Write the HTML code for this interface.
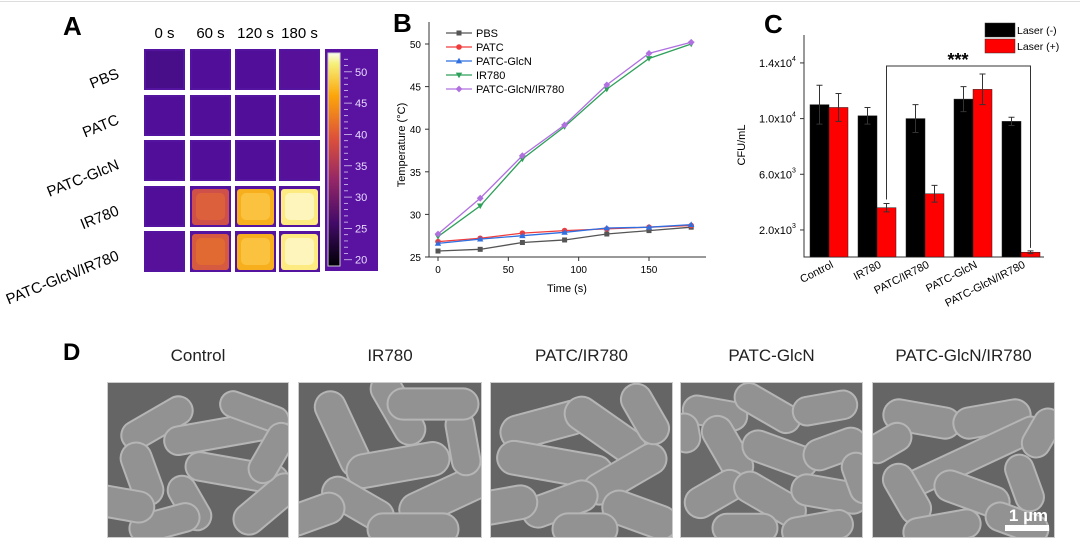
<!DOCTYPE html>
<html><head><meta charset="utf-8"><style>
body{margin:0;background:#fff;width:1080px;height:540px;overflow:hidden;font-family:"Liberation Sans",sans-serif}
svg text{font-family:"Liberation Sans",sans-serif}
</style></head><body>
<svg id="fig" width="1080" height="540" viewBox="0 0 1080 540" xmlns="http://www.w3.org/2000/svg">
<defs>
<linearGradient id="inferno" x1="0" y1="1" x2="0" y2="0">
<stop offset="0" stop-color="#000004"/><stop offset="0.2" stop-color="#420a68"/><stop offset="0.4" stop-color="#932667"/><stop offset="0.6" stop-color="#dd513a"/><stop offset="0.8" stop-color="#fca50a"/><stop offset="0.95" stop-color="#f6f07a"/><stop offset="1" stop-color="#fcfdf0"/>
</linearGradient>
</defs>
<line x1="0" y1="1.5" x2="1080" y2="1.5" stroke="#ddd"/>
<g id="panelA"></g>
<g id="panelB"></g>
<g id="panelC"></g>
<g id="panelD"></g>
</svg>
<script>
const NS="http://www.w3.org/2000/svg";
// Panel A data
const heatTimes=["0 s","60 s","120 s","180 s"];
const heatGroups=["PBS","PATC","PATC-GlcN","IR780","PATC-GlcN/IR780"];
const heatTemps=[[26,27,27,28],[27,27,27,28],[27,27,27,28],[27,36,45,50],[28,37,45,50]];
const cbTicks=[20,25,30,35,40,45,50];
// Panel B data
const timeX=[0,30,60,90,120,150,180];
const seriesNames=["PBS","PATC","PATC-GlcN","IR780","PATC-GlcN/IR780"];
const seriesColors=["#555555","#f03c3c","#2f6fe0","#2ea05a","#b070e0"];
const pbsT=[25.7,25.9,26.7,27.0,27.7,28.1,28.5];
const patcT=[26.8,27.2,27.8,28.1,28.3,28.5,28.7];
const glcnT=[26.6,27.1,27.5,27.9,28.4,28.5,28.8];
const ir780T=[27.4,31.0,36.5,40.3,44.7,48.3,50.0];
const glcnIrT=[27.7,31.9,36.9,40.5,45.2,48.9,50.2];
const tempTicks=[25,30,35,40,45,50];
const timeTicks=[0,50,100,150];
// Panel C data
const cfuGroups=["Control","IR780","PATC/IR780","PATC-GlcN","PATC-GlcN/IR780"];
const laserOff=[11000,10200,10000,11400,9800];
const laserOn=[10800,3600,4600,12100,400];
const errOff=[1400,600,1000,900,300];
const errOn=[1000,300,600,1100,100];
const cfuTicks=[2000,6000,10000,14000];
const cfuTickLabels=["2.0x10","6.0x10","1.0x10","1.4x10"];
const cfuTickExp=["3","3","4","4"];

function el(tag,attrs,parent,text){const e=document.createElementNS(NS,tag);for(const k in attrs)e.setAttribute(k,attrs[k]);if(text!==undefined)e.textContent=text;parent.appendChild(e);return e;}

// ---------- Panel A ----------
const A=document.getElementById('panelA');
let t=el('text',{x:63,y:35,'font-size':26,'font-weight':'bold'},A,'A');

function heatColor(T){const stops=[[20,[0,0,4]],[26,[80,12,150]],[30,[110,20,150]],[35,[200,70,80]],[40,[235,120,40]],[45,[248,175,30]],[50,[253,235,130]],[53,[252,253,240]]];
 for(let i=1;i<stops.length;i++){if(T<=stops[i][0]){const a=stops[i-1],b=stops[i],f=(T-a[0])/(b[0]-a[0]);return 'rgb('+a[1].map((v,j)=>Math.round(v+(b[1][j]-v)*f)).join(',')+')';}}return 'rgb(252,253,240)';}
const cellX=[144,190,235,279],cellW=41,rowY=[49,95,140,186,231],cellH=41;
heatTimes.forEach((s,i)=>{const tx=el('text',{x:cellX[i]+cellW/2,y:38,'font-size':15,'text-anchor':'middle'},A,s);
});
heatGroups.forEach((g,r)=>{
 const lx=120,ly=rowY[r]+cellH/2+8;
 const tx=el('text',{x:lx,y:ly,'font-size':15,'text-anchor':'end',transform:'rotate(-22 '+lx+' '+ly+')'},A,g);
 
 heatTemps[r].forEach((T,c)=>{
  const rc=el('rect',{x:cellX[c],y:rowY[r],width:cellW,height:cellH,fill:'#5514a0'},A);
  
  if(T>30){
   const inner=el('rect',{x:cellX[c]+2,y:rowY[r]+3,width:cellW-4,height:cellH-5,rx:3,fill:heatColor(T)},A);
   
   const core=el('rect',{x:cellX[c]+6,y:rowY[r]+7,width:cellW-12,height:cellH-14,rx:5,fill:heatColor(T+2),opacity:0.8},A);
   }
  else{const inner=el('rect',{x:cellX[c]+2,y:rowY[r]+2,width:cellW-4,height:cellH-4,fill:heatColor(T-1),opacity:0.7},A);
   }
 });
});
const cbBox=el('rect',{x:325,y:49,width:53,height:222,fill:'#5a12a0'},A);

const cbTop=53,cbBot=266,cbMin=19,cbMax=53;
const cb=el('rect',{x:328,y:cbTop,width:12,height:cbBot-cbTop,fill:'url(#inferno)',stroke:'#ccc','stroke-width':1},A);

const cbY=v=>cbBot-(v-cbMin)/(cbMax-cbMin)*(cbBot-cbTop);
for(let v=20;v<=52;v++){const ln=el('line',{x1:344,x2:v%5==0?352:348,y1:cbY(v),y2:cbY(v),stroke:'#d8c8f0','stroke-width':0.8},A);
 }
cbTicks.forEach(v=>{const tx=el('text',{x:355,y:cbY(v)+4,'font-size':11,fill:'#e8dcff'},A,String(v));
 });

// ---------- Panel B ----------
const B=document.getElementById('panelB');
t=el('text',{x:393,y:32,'font-size':26,'font-weight':'bold'},B,'B');

const bx=v=>438+v*(211/150), by=v=>257-(v-25)*(213/25);
let ax=el('path',{d:'M429 22 V257 H706',fill:'none',stroke:'#333','stroke-width':1},B);

tempTicks.forEach(v=>{const ln=el('line',{x1:425,x2:429,y1:by(v),y2:by(v),stroke:'#333'},B);
 
 const tx=el('text',{x:421,y:by(v)+4,'font-size':10,'text-anchor':'end'},B,String(v));
 });
timeTicks.forEach(v=>{const ln=el('line',{x1:bx(v),x2:bx(v),y1:257,y2:261,stroke:'#333'},B);
 
 const tx=el('text',{x:bx(v),y:273,'font-size':10,'text-anchor':'middle'},B,String(v));
 });
t=el('text',{x:567,y:292,'font-size':11,'text-anchor':'middle'},B,'Time (s)');

t=el('text',{x:405,y:145,'font-size':11,'text-anchor':'middle',transform:'rotate(-90 405 145)'},B,'Temperature (°C)');

const allSeries=[pbsT,patcT,glcnT,ir780T,glcnIrT];
function marker(kind,x,y,c,g){let m;
 if(kind==0)m=el('rect',{x:x-2.5,y:y-2.5,width:5,height:5,fill:c},g);
 else if(kind==1)m=el('circle',{cx:x,cy:y,r:2.8,fill:c},g);
 else if(kind==2)m=el('path',{d:`M${x} ${y-3.2}L${x+3.2} ${y+2.4}L${x-3.2} ${y+2.4}Z`,fill:c},g);
 else if(kind==3)m=el('path',{d:`M${x} ${y+3.2}L${x+3.2} ${y-2.4}L${x-3.2} ${y-2.4}Z`,fill:c},g);
 else m=el('path',{d:`M${x} ${y-3.4}L${x+3.4} ${y}L${x} ${y+3.4}L${x-3.4} ${y}Z`,fill:c},g);
 return m;}
allSeries.forEach((s,k)=>{const c=seriesColors[k];
 const pl=el('polyline',{points:s.map((v,i)=>bx(timeX[i])+','+by(v)).join(' '),fill:'none',stroke:c,'stroke-width':1.3},B);
 
 s.forEach((v,i)=>{const m=marker(k,bx(timeX[i]),by(v),c,B);
  });
 const ly=33+k*14;
 const ll=el('line',{x1:446,x2:472,y1:ly,y2:ly,stroke:c,'stroke-width':1.3},B);
 
 const lm=marker(k,459,ly,c,B);
 const lt=el('text',{x:476,y:ly+4,'font-size':11},B,seriesNames[k]);
 
});

// ---------- Panel C ----------
const C=document.getElementById('panelC');
t=el('text',{x:764,y:33,'font-size':26,'font-weight':'bold'},C,'C');

const cy=v=>257.8-v*0.01392, groupX=i=>829+i*48;
ax=el('path',{d:'M804 35 V257 H1044',fill:'none',stroke:'#333','stroke-width':1},C);

cfuTicks.forEach((v,i)=>{const ln=el('line',{x1:800,x2:804,y1:cy(v),y2:cy(v),stroke:'#333'},C);
 
 const tx=el('text',{x:792,y:cy(v)+4,'font-size':11,'text-anchor':'end'},C,cfuTickLabels[i]);
 
 const ex=el('text',{x:792,y:cy(v)-2,'font-size':7},C,cfuTickExp[i]);
 });
t=el('text',{x:745,y:145,'font-size':11,'text-anchor':'middle',transform:'rotate(-90 745 145)'},C,'CFU/mL');

cfuGroups.forEach((g,i)=>{const gx=groupX(i);
 [[laserOff,errOff,'#000',-19],[laserOn,errOn,'#ff0000',0]].forEach(([vals,errs,col,off],j)=>{
  const v=vals[i],x=gx+off;
  const r=el('rect',{x:x,y:cy(v),width:19,height:257-cy(v),fill:col,stroke:'#222','stroke-width':0.5},C);
  
  const e=errs[i],cx=x+9.5;
  const eb=el('path',{d:`M${cx} ${cy(v-e)}V${cy(v+e)}M${cx-3} ${cy(v+e)}H${cx+3}M${cx-3} ${cy(v-e)}H${cx+3}`,stroke:'#333','stroke-width':1,fill:'none'},C);
  
 });
 const lx=gx+5,ly=267;
 const tx=el('text',{x:lx,y:ly,'font-size':11,'text-anchor':'end',transform:`rotate(-27 ${lx} ${ly})`},C,g);
 
});
const br=el('path',{d:`M${groupX(1)+9.5} ${cy(laserOn[1]+errOn[1])-4}V66H${groupX(4)+9.5}V${cy(laserOn[4]+errOn[4])-3}`,fill:'none',stroke:'#333','stroke-width':1},C);

t=el('text',{x:958,y:66,'font-size':18,'font-weight':'bold','text-anchor':'middle'},C,'***');

[['#000','Laser (-)',23],['#ff0000','Laser (+)',39]].forEach(([c,l,y])=>{
 const r=el('rect',{x:985,y:y,width:30,height:14,fill:c,stroke:'#333','stroke-width':0.5},C);
 
 const tx=el('text',{x:1017,y:y+11,'font-size':10.5},C,l);
 });

// ---------- Panel D ----------
const D=document.getElementById('panelD');
t=el('text',{x:63,y:360,'font-size':24,'font-weight':'bold'},D,'D');

const semTitles=["Control","IR780","PATC/IR780","PATC-GlcN","PATC-GlcN/IR780"];
const semX=[107,298,490,680,872],semW=[182,184,183,183,183];
const rods=[
 [[20,30,60,22,-30],[70,40,90,22,-10],[10,80,50,24,70],[90,80,80,22,10],[60,110,45,22,60],[120,20,55,20,20],[130,110,60,24,-40],[30,130,55,22,-15],[-10,110,50,24,10],[140,60,50,22,-60]],
 [[10,40,70,24,65],[60,70,80,26,-10],[70,15,60,24,60],[110,100,80,26,-25],[30,110,60,24,30],[140,50,50,22,80],[80,135,70,24,0],[100,10,70,24,0],[-10,120,50,24,-20]],
 [[20,30,70,26,-15],[80,35,70,26,35],[20,70,90,26,10],[100,80,70,24,-30],[40,110,60,24,-20],[120,120,60,26,20],[130,20,50,24,60],[-10,110,50,26,-10],[70,135,50,24,0]],
 [[10,20,50,22,10],[60,15,55,22,30],[120,15,50,22,-10],[20,55,55,24,60],[70,60,60,24,20],[130,55,50,24,-20],[10,100,50,24,-30],[60,105,60,24,30],[120,100,60,24,10],[40,135,50,22,0],[110,135,55,22,-10],[-10,40,30,22,80],[160,85,40,22,70]],
 [[20,25,60,24,10],[90,25,60,24,-10],[40,65,120,20,-25],[10,100,50,24,60],[70,100,60,24,20],[130,90,45,22,70],[40,135,60,22,-10],[120,130,50,22,20],[-5,50,40,22,-30],[150,40,40,22,-60]]
];
semTitles.forEach((s,i)=>{
 const tx=el('text',{x:semX[i]+semW[i]/2,y:361,'font-size':17,'text-anchor':'middle',fill:'#222'},D,s);
 
 const g=el('svg',{x:semX[i],y:382,width:semW[i],height:156,overflow:'hidden'},D);
 
 el('rect',{x:0,y:0,width:semW[i],height:156,fill:i==3?'#6a6a6a':'#656565'},g);
 rods[i].forEach(([x,y,w,h,a])=>{
  const W=w*1.3,H=h*1.3,cx=x+w/2,cy2=y+h/2;
  const r=el('rect',{x:cx-W/2,y:cy2-H/2,width:W,height:H,rx:H/2,fill:'#929292',stroke:'#b5b5b5','stroke-width':2,transform:`rotate(${a} ${cx} ${cy2})`},g);
  
 });
 el('rect',{x:0.5,y:0.5,width:semW[i]-1,height:155,fill:'none',stroke:'#ccc'},g);
});
t=el('text',{x:1048,y:521,'font-size':17,'font-weight':'bold','text-anchor':'end',fill:'#fff'},D,'1 µm');

const sb=el('rect',{x:1005,y:525,width:44,height:6,fill:'#fff'},D);

</script>
</body></html>
